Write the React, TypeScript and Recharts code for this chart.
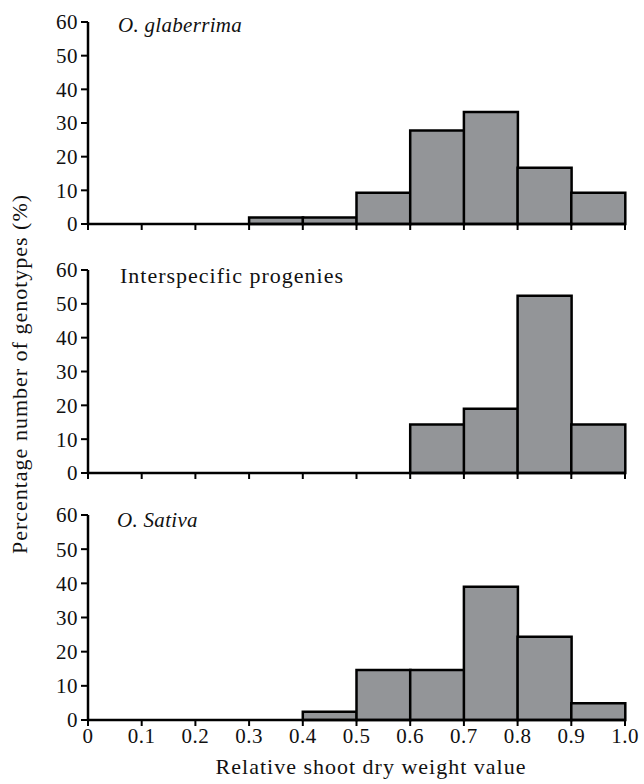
import React from "react";
import { BarChart, Bar, XAxis, YAxis } from "recharts";

// bins of relative shoot dry weight value (lower edge .. upper edge)
const bins = ["0-0.1", "0.1-0.2", "0.2-0.3", "0.3-0.4", "0.4-0.5", "0.5-0.6", "0.6-0.7", "0.7-0.8", "0.8-0.9", "0.9-1.0"];
const binMids = [0.05, 0.15, 0.25, 0.35, 0.45, 0.55, 0.65, 0.75, 0.85, 0.95];

// percentage of genotypes per bin
const glaberrima = [0, 0, 0, 1.9, 1.9, 9.3, 27.8, 33.3, 16.7, 9.3];
const interspecific = [0, 0, 0, 0, 0, 0, 14.3, 19.0, 52.4, 14.3];
const sativa = [0, 0, 0, 0, 2.4, 14.6, 14.6, 39.0, 24.4, 4.9];

const xTicks = [0, 0.1, 0.2, 0.3, 0.4, 0.5, 0.6, 0.7, 0.8, 0.9, 1.0];
const yTicks = [0, 10, 20, 30, 40, 50, 60];

const FONT = "'Liberation Serif', 'Times New Roman', serif";
const BAR_FILL = "#939598";

const toRows = (values: number[]) =>
  bins.map((bin, i) => ({ bin, mid: binMids[i], value: values[i] }));

interface PanelProps {
  values: number[];
  top: number;
  height: number;
  marginTop: number;
  axisHeight: number;
  marginBottom: number;
  showLabels: boolean;
}

function Panel({ values, top, height, marginTop, axisHeight, marginBottom, showLabels }: PanelProps) {
  const tickStyle = { fontSize: 21, fill: "#111", fontFamily: FONT, letterSpacing: 0.5 };
  return (
    <div style={{ position: "absolute", left: 0, top }}>
      <BarChart
        width={644}
        height={height}
        data={toRows(values)}
        margin={{ top: marginTop, right: 19, left: 0, bottom: marginBottom }}
        barCategoryGap={0}
      >
        <XAxis xAxisId="cat" dataKey="bin" type="category" hide height={0} />
        <XAxis
          xAxisId="num"
          dataKey="mid"
          type="number"
          domain={[0, 1]}
          ticks={xTicks}
          interval={0}
          height={axisHeight}
          allowDataOverflow
          tickSize={6}
          tickMargin={2}
          axisLine={{ stroke: "#000", strokeWidth: 2.5 }}
          tickLine={{ stroke: "#000", strokeWidth: 2 }}
          tick={tickStyle}
          tickFormatter={(v: number) => (showLabels ? (v === 0 ? "0" : v.toFixed(1)) : "")}
        />
        <YAxis
          domain={[0, 60]}
          ticks={yTicks}
          interval={0}
          width={88}
          tickSize={7}
          tickMargin={3}
          axisLine={{ stroke: "#000", strokeWidth: 2.5 }}
          tickLine={{ stroke: "#000", strokeWidth: 2 }}
          tick={tickStyle}
        />
        <Bar
          xAxisId="cat"
          dataKey="value"
          fill={BAR_FILL}
          stroke="#000"
          strokeWidth={2.5}
          isAnimationActive={false}
        />
      </BarChart>
    </div>
  );
}

const textStyle: React.CSSProperties = {
  position: "absolute",
  fontFamily: FONT,
  fontSize: 22,
  letterSpacing: 1,
  color: "#111",
  whiteSpace: "nowrap",
  lineHeight: 1,
};

const italicStyle: React.CSSProperties = {
  ...textStyle,
  fontSize: 21,
  letterSpacing: 0.3,
  fontStyle: "italic",
};

export default function App() {
  return (
    <div style={{ position: "absolute", left: 0, top: 0, width: 644, height: 784, background: "#fff" }}>
      <Panel values={glaberrima} top={0} height={250} marginTop={22} axisHeight={26} marginBottom={0} showLabels={false} />
      <Panel values={interspecific} top={250} height={250} marginTop={20} axisHeight={27} marginBottom={0} showLabels={false} />
      <Panel values={sativa} top={495} height={289} marginTop={20} axisHeight={40} marginBottom={24} showLabels={true} />

      <div style={{ ...italicStyle, left: 118, top: 15 }}>O. glaberrima</div>
      <div style={{ ...textStyle, left: 120, top: 265 }}>Interspecific progenies</div>
      <div style={{ ...italicStyle, left: 117, top: 510 }}>O. Sativa</div>

      <div style={{ ...textStyle, left: 371, top: 756, transform: "translateX(-50%)" }}>
        Relative shoot dry weight value
      </div>
      <div
        style={{
          ...textStyle,
          left: 20,
          top: 374,
          transform: "translate(-50%, -50%) rotate(-90deg)",
        }}
      >
        Percentage number of genotypes (%)
      </div>
    </div>
  );
}
